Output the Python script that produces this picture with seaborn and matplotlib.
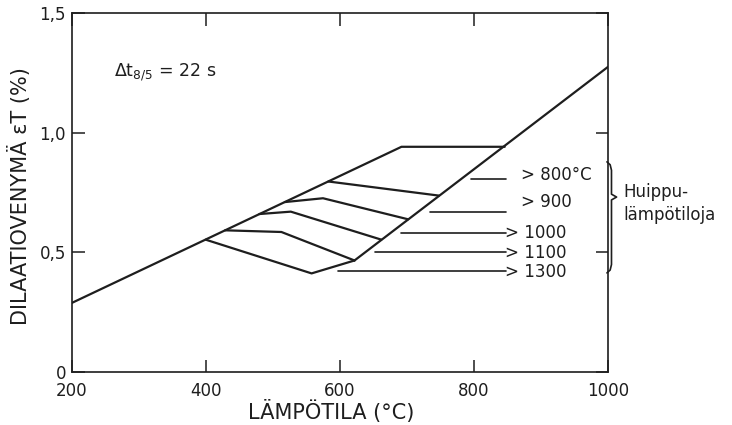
import matplotlib
matplotlib.use("Agg")
import matplotlib.pyplot as plt
import seaborn as sns
import pandas as pd
from matplotlib.transforms import blended_transform_factory

# ---- data (temperature in °C, dilatation in %) ----
heat_T = [200, 692, 846]
heat_e = [0.288, 0.941, 0.941]
aust_T = [622, 1000]
aust_e = [0.466, 1.275]

cool_800_T = [583, 748]
cool_800_e = [0.796, 0.737]
cool_900_T = [518, 575, 702]
cool_900_e = [0.710, 0.726, 0.638]
cool_1000_T = [480, 527, 662]
cool_1000_e = [0.660, 0.670, 0.553]
cool_1100_T = [429, 513, 622]
cool_1100_e = [0.592, 0.585, 0.466]
cool_1300_T = [400, 558, 622]
cool_1300_e = [0.553, 0.412, 0.466]

leader_start = [796, 734, 692, 652, 597]
leader_end = [848, 848, 848, 848, 848]
leader_e = [0.807, 0.670, 0.581, 0.500, 0.422]
label_texts = ["> 800°C", "> 900", "> 1000", "> 1100", "> 1300"]
label_T = [871, 871, 846, 846, 846]
label_e = [0.823, 0.712, 0.580, 0.499, 0.419]

x_ticks = [200, 400, 600, 800, 1000]
x_ticklabels = ["200", "400", "600", "800", "1000"]
y_ticks = [0, 0.5, 1.0, 1.5]
y_ticklabels = ["0", "0,5", "1,0", "1,5"]

brace_top, brace_tip, brace_bot = 0.878, 0.731, 0.414

# ---- build table ----
curves = {
    "heat": (heat_T, heat_e),
    "aust": (aust_T, aust_e),
    "800": (cool_800_T, cool_800_e),
    "900": (cool_900_T, cool_900_e),
    "1000": (cool_1000_T, cool_1000_e),
    "1100": (cool_1100_T, cool_1100_e),
    "1300": (cool_1300_T, cool_1300_e),
}
rows = []
for name, (ts, es) in curves.items():
    for i, (t, e) in enumerate(zip(ts, es)):
        rows.append({"curve": name, "order": i, "T": t, "e": e})
df = pd.DataFrame(rows)

sns.set_theme(style="ticks")
plt.rcParams["font.family"] = ["DejaVu Sans"]
plt.rcParams["mathtext.fontset"] = "dejavusans"

ink = "#1e1e1e"
fig = plt.figure(figsize=(7.32, 4.25), dpi=100)
ax = fig.add_axes([0.0977, 0.1247, 0.7329, 0.8447])

sns.lineplot(data=df, x="T", y="e", units="curve", estimator=None, sort=False,
             color=ink, lw=1.6, ax=ax, legend=False)

for xs, xe, ye in zip(leader_start, leader_end, leader_e):
    ax.plot([xs, xe], [ye, ye], color=ink, lw=1.2)
for txt, tx, ty in zip(label_texts, label_T, label_e):
    ax.text(tx, ty, txt, fontsize=12, color=ink, ha="left", va="center")

ax.text(264, 1.254, r"Δt$_{8/5}$ = 22 s", fontsize=12.5, color=ink,
        ha="left", va="center")

# brace
tr = blended_transform_factory(ax.transAxes, ax.transData)
bx = [0.998, 1.004, 1.0065, 1.0065, 1.016, 1.0065, 1.0065, 1.004, 0.998]
by = [brace_top, brace_top - 0.012, brace_top - 0.035, brace_tip + 0.012, brace_tip,
      brace_tip - 0.012, brace_bot + 0.035, brace_bot + 0.012, brace_bot]
ax.plot(bx, by, color=ink, lw=1.2, transform=tr, clip_on=False)
ax.text(1.028, 0.704, "Huippu-\nlämpötiloja", transform=tr, fontsize=12,
        color=ink, ha="left", va="center", linespacing=1.35)

ax.set_xlim(200, 1000)
ax.set_ylim(0, 1.5)
ax.set_xticks(x_ticks)
ax.set_xticklabels(x_ticklabels)
ax.set_yticks(y_ticks)
ax.set_yticklabels(y_ticklabels)
ax.tick_params(axis="both", direction="in", length=9, width=1.1, top=True,
               right=True, labelsize=12, colors=ink)
ax.tick_params(axis="x", pad=7)
ax.tick_params(axis="y", pad=4)
for s in ax.spines.values():
    s.set_visible(True)
    s.set_linewidth(1.2)
    s.set_color(ink)

ax.set_xlabel("LÄMPÖTILA (°C)", fontsize=15, color=ink)
ax.xaxis.set_label_coords(0.484, -0.11)
ax.xaxis.label.set_va("center")
ax.set_ylabel("DILAATIOVENYMÄ εT (%)", fontsize=15, color=ink)
ax.yaxis.set_label_coords(-0.097, 0.49)
ax.yaxis.label.set_va("center")

fig.savefig("out.png", dpi=100, facecolor="white")
